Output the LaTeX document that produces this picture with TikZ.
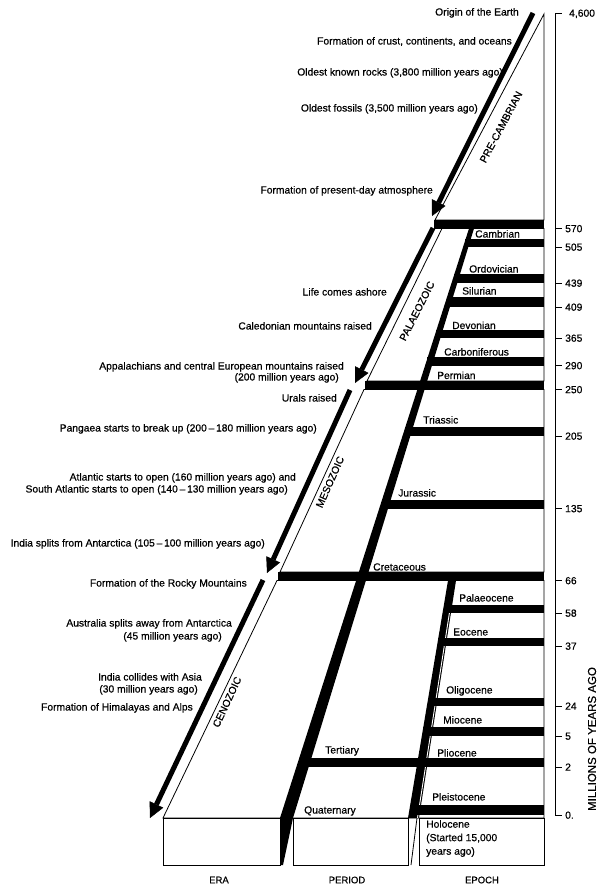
\documentclass[tikz,border=0pt]{standalone}
\usepackage{fontspec}
\setmainfont{Liberation Sans}
\usetikzlibrary{arrows.meta}
\begin{document}
\begin{tikzpicture}[x=1bp,y=-1bp,
  slab/.style={fill=white,draw=black,line width=0.8bp,line join=miter},
  bar/.style={fill=black},
  txt/.style={inner sep=0pt,font=\fontsize{10.3bp}{12bp}\selectfont\addfontfeature{FakeBold=0.6}},
  evt/.style={txt,anchor=base east},
  boxlab/.style={txt,anchor=base west},
  eralab/.style={txt},
  ticklab/.style={txt,anchor=base west},
  axisline/.style={line width=1bp},
  eraarrow/.style={line width=5bp,-{Triangle[length=15bp,width=15bp,line width=0.4bp]}},
  collab/.style={inner sep=0pt,font=\fontsize{9.5bp}{11bp}\selectfont\addfontfeature{FakeBold=0.4}}]
\fill[white] (0,0) rectangle (598,886);
\useasboundingbox (0,0) rectangle (598,886);

% era slabs
\path[slab] (544,14) -- (435,220) -- (544,220) -- cycle;
\path[slab] (442,228.5) -- (367,381) -- (544,381) -- (544,228.5) -- cycle;
\path[slab] (364,389.5) -- (280,572) -- (544,572) -- (544,389.5) -- cycle;
\path[slab] (277,580.5) -- (163,818) -- (544,818) -- (544,580.5) -- cycle;
% front boxes
\path[slab] (163,818) rectangle (280,865);
\path[slab] (293,818) rectangle (408,865);
\path[slab] (419,818) rectangle (544,865);

% period stripe
\fill (469,228.5) -- (474,228.5) -- (293,818) -- (283,865) -- (280,865) -- (280,818) -- cycle;
% epoch stripe
\fill (448,580.5) -- (456,580.5) -- (419,818) -- (408,818) -- cycle;
\draw[white,line width=0.9bp] (450.5,606) -- (417.5,818);
\draw[line width=0.8bp] (417,818) -- (411,865);

% era bars
\fill[bar] (434,220) rectangle (544,228.5);
\fill[bar] (365,381) rectangle (544,389.5);
\fill[bar] (278,572) rectangle (544,580.5);
% period bars
\fill[bar] (465,239) rectangle (544,247);
\fill[bar] (454,274) rectangle (544,283);
\fill[bar] (447,296.5) rectangle (544,307);
\fill[bar] (436,330) rectangle (544,338);
\fill[bar] (427,357) rectangle (544,365.5);
\fill[bar] (405,427) rectangle (544,436);
\fill[bar] (382,500) rectangle (544,508.5);
\fill[bar] (299,758) rectangle (544,767);
% epoch bars
\fill[bar] (444,605) rectangle (544,613);
\fill[bar] (438,638) rectangle (544,646);
\fill[bar] (428,698) rectangle (544,706);
\fill[bar] (423,727) rectangle (544,736);
\fill[bar] (410,805) rectangle (544,815);

% era arrows
\coordinate (preS) at (533,13);   \coordinate (preE) at (432,216);
\coordinate (palS) at (433,228);  \coordinate (palE) at (355,383);
\coordinate (mesS) at (350,390);  \coordinate (mesE) at (267,573);
\coordinate (cenS) at (263,580);  \coordinate (cenE) at (150,818);
\draw[eraarrow] (preS) -- (preE);
\draw[eraarrow] (palS) -- (palE);
\draw[eraarrow] (mesS) -- (mesE);
\draw[eraarrow] (cenS) -- (cenE);

% era labels
\node[eralab,rotate=62] (lpre) at (501,127) {PRE-CAMBRIAN};
\node[eralab,rotate=63] (lpal) at (417,311) {PALAEOZOIC};
\node[eralab,rotate=66] (lmes) at (330,482) {MESOZOIC};
\node[eralab,rotate=65] (lcen) at (227,702) {CENOZOIC};

% period / epoch labels
\node[boxlab] (cam) at (475,237.5) {Cambrian};
\node[boxlab] (ord) at (469,272.5) {Ordovician};
\node[boxlab] (sil) at (462,294.5) {Silurian};
\node[boxlab] (dev) at (452,329) {Devonian};
\node[boxlab] (car) at (444,355.5) {Carboniferous};
\node[boxlab] (per) at (437,379) {Permian};
\node[boxlab] (tri) at (423,423.5) {Triassic};
\node[boxlab] (jur) at (398,496.5) {Jurassic};
\node[boxlab] (cre) at (373,570.5) {Cretaceous};
\node[boxlab] (ter) at (325,753.5) {Tertiary};
\node[boxlab] (qua) at (304,813.5) {Quaternary};
\node[boxlab] (pal) at (459,601.5) {Palaeocene};
\node[boxlab] (eoc) at (453,635.5) {Eocene};
\node[boxlab] (oli) at (446,693.5) {Oligocene};
\node[boxlab] (mio) at (443,723.5) {Miocene};
\node[boxlab] (pli) at (437,756.5) {Pliocene};
\node[boxlab] (ple) at (432,800.5) {Pleistocene};
\node[txt,anchor=north west,align=left,font=\fontsize{10.3bp}{13.5bp}\selectfont\addfontfeature{FakeBold=0.6}] (hol) at (426,820) {Holocene\\(Started 15,000\\years ago)};

% events
\node[evt] (e1) at (519,15.5) {Origin of the Earth};
\node[evt] (e2) at (512,44.5) {Formation of crust, continents, and oceans};
\node[evt] (e3) at (503,75.5) {Oldest known rocks (3,800 million years ago)};
\node[evt] (e4) at (478,111.5) {Oldest fossils (3,500 million years ago)};
\node[evt] (e5) at (433,193.5) {Formation of present-day atmosphere};
\node[evt] (e6) at (387,295.5) {Life comes ashore};
\node[evt] (e7) at (372,329.5) {Caledonian mountains raised};
\node[evt] (e8a) at (344,369.5) {Appalachians and central European mountains raised};
\node[evt] (e8b) at (339,380.5) {(200 million years ago)};
\node[evt] (e9) at (337,401.5) {Urals raised};
\node[evt] (e10) at (317,431.5) {Pangaea starts to break up (200\,\textendash\,180 million years ago)};
\node[evt] (e11a) at (296,480.5) {Atlantic starts to open (160 million years ago) and};
\node[evt] (e11b) at (288,492.5) {South Atlantic starts to open (140\,\textendash\,130 million years ago)};
\node[evt] (e12) at (265,546.5) {India splits from Antarctica (105\,\textendash\,100 million years ago)};
\node[evt] (e13) at (247,586.5) {Formation of the Rocky Mountains};
\node[evt] (e14a) at (232,626.5) {Australia splits away from Antarctica};
\node[evt] (e14b) at (222,639.5) {(45 million years ago)};
\node[evt] (e15a) at (202,680.5) {India collides with Asia};
\node[evt] (e15b) at (198,692.5) {(30 million years ago)};
\node[evt] (e16) at (193,710.5) {Formation of Himalayas and Alps};

% column labels
\node[collab] (cera) at (219,880) {ERA};
\node[collab] (cper) at (347,880) {PERIOD};
\node[collab] (cepo) at (482,880) {EPOCH};

% axis
\draw[axisline] (555,13) -- (555,815);
\foreach \yy/\lab/\xx/\nm in {13/{4,600}/569/t0,228.5/570/565/t1,247/505/565/t2,283/439/565/t3,307/409/565/t4,338/365/565/t5,365.5/290/565/t6,389.5/250/565/t7,436/205/565/t8,508.5/135/565/t9,580.5/66/565/t10,613/58/565/t11,646/37/565/t12,706/24/565/t13,736/5/565/t14,767/2/565/t15,815/{0.}/565/t16}{
  \draw[axisline] (555,\yy) -- (562,\yy);
  \node[ticklab] (\nm) at (\xx,\yy+3.7) {\lab};
}
\node[inner sep=0pt,rotate=90,font=\fontsize{11.5bp}{13bp}\selectfont\addfontfeature{FakeBold=0.4}] (axlab) at (592,739) {MILLIONS OF YEARS AGO};
\end{tikzpicture}
\end{document}
